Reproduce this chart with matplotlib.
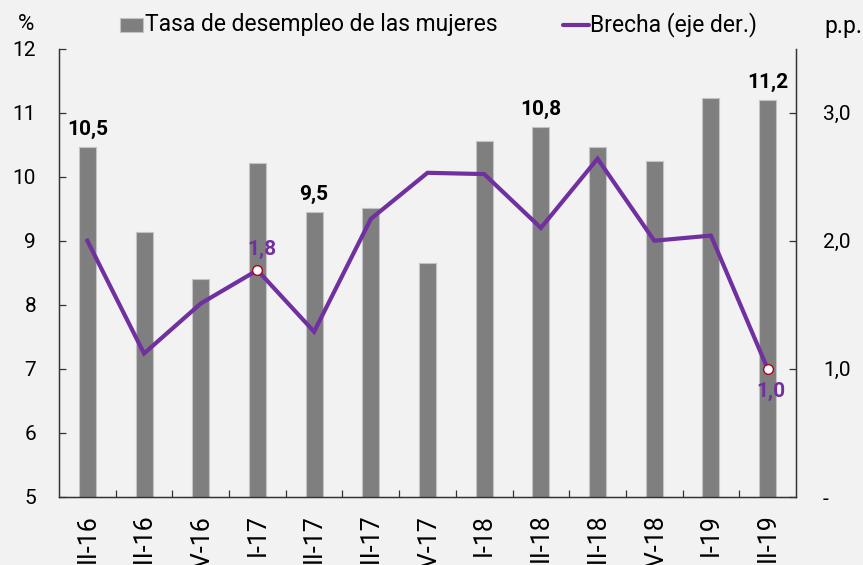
import matplotlib
matplotlib.use("Agg")
import matplotlib.pyplot as plt
from matplotlib.patches import Rectangle
from matplotlib.lines import Line2D

plt.rcParams['font.family'] = ['Roboto', 'DejaVu Sans']

categories = ["II-16", "III-16", "IV-16", "I-17", "II-17", "III-17", "IV-17",
              "I-18", "II-18", "III-18", "IV-18", "I-19", "II-19"]
tasa = [10.47, 9.14, 8.40, 10.22, 9.45, 9.51, 8.65, 10.56, 10.77, 10.46, 10.25, 11.23, 11.20]
brecha = [2.0, 1.12, 1.51, 1.77, 1.29, 2.17, 2.53, 2.52, 2.10, 2.64, 2.0, 2.04, 1.0]
bar_label_idx = [0, 4, 8, 12]
bar_label_txt = ["10,5", "9,5", "10,8", "11,2"]
line_label_idx = [3, 12]
line_label_txt = ["1,8", "1,0"]
left_ticks = [5, 6, 7, 8, 9, 10, 11, 12]
right_ticks = [0, 1, 2, 3]
right_tick_labels = ["-", "1,0", "2,0", "3,0"]

BG = "#f2f2f2"
BAR = "#7f7f7f"
PURPLE = "#7030a0"
SPINE = "#333333"

W, H = 863, 565
fig = plt.figure(figsize=(W / 100, H / 100), dpi=100, facecolor=BG)
ax = fig.add_axes([59 / W, (H - 497) / H, (796 - 59) / W, (497 - 48.5) / H])
ax.set_facecolor(BG)

x = list(range(len(categories)))
ax.bar(x, [v - 5 for v in tasa], bottom=5, width=0.30, color=BAR,
       edgecolor="#c4c4c4", linewidth=0.8, zorder=2)
ax.set_xlim(-0.5, len(categories) - 0.5)
ax.set_ylim(5, 12)
ax.set_yticks(left_ticks)
ax.set_yticklabels([str(t) for t in left_ticks])
ax.set_xticks(x)
ax.set_xticklabels(categories, rotation=90, fontsize=18, va="top", ha="center")
ax.set_xticks([i + 0.5 for i in x[:-1]], minor=True)
ax.tick_params(axis="x", which="major", length=0, pad=12, colors="black")
ax.tick_params(axis="x", which="minor", direction="in", length=5, width=0.9, color=SPINE)
ax.tick_params(axis="y", direction="in", length=5, width=0.9, color=SPINE,
               labelsize=15, pad=16.5)
for s in ["left", "right", "bottom"]:
    ax.spines[s].set_color(SPINE)
    ax.spines[s].set_linewidth(1.0)
ax.spines["top"].set_visible(False)

for i, t in zip(bar_label_idx, bar_label_txt):
    ax.annotate(t, (i, tasa[i]), xytext=(0, 8.6), textcoords="offset points",
                ha="center", va="baseline", fontsize=15, fontweight="bold",
                color="black", zorder=5)

ax2 = ax.twinx()
ax2.set_ylim(0, 3.5)
ax2.plot(x, brecha, color=PURPLE, linewidth=3, zorder=3, solid_joinstyle="miter")
ax2.plot([x[i] for i in line_label_idx], [brecha[i] for i in line_label_idx],
         linestyle="none", marker="o", markersize=7, markerfacecolor="white",
         markeredgecolor="#b00020", markeredgewidth=1.0, zorder=4)
ax2.set_yticks(right_ticks)
ax2.set_yticklabels(right_tick_labels)
ax2.tick_params(axis="y", direction="in", length=5, width=0.9, color=SPINE,
                labelsize=15, pad=19.5)
for s in ["left", "right", "bottom"]:
    ax2.spines[s].set_color(SPINE)
ax2.spines["top"].set_visible(False)

offsets = [(3, 11), (2, -20.5)]
for (i, t), off in zip(zip(line_label_idx, line_label_txt), offsets):
    ax2.annotate(t, (i, brecha[i]), xytext=off, textcoords="offset points",
                 ha="center", va="baseline", fontsize=15, fontweight="bold",
                 color=PURPLE, zorder=5)

# legend and unit labels
def fy(py):
    return (H - py) / H

fig.add_artist(Rectangle((120 / W, fy(32)), 23 / W, 14 / H, transform=fig.transFigure,
                         facecolor=BAR, edgecolor="#c4c4c4", linewidth=0.8))
fig.text(145 / W, fy(25), "Tasa de desempleo de las mujeres", fontsize=16.5,
         va="center", ha="left")
fig.add_artist(Line2D([563 / W, 589 / W], [fy(25), fy(25)], transform=fig.transFigure,
                      color=PURPLE, linewidth=3, solid_capstyle="round"))
fig.text(590 / W, fy(25), "Brecha (eje der.)", fontsize=16.5, va="center", ha="left")
fig.text(26.5 / W, fy(25), "%", fontsize=16, va="center", ha="center")
fig.text(824 / W, fy(27), "p.p.", fontsize=16.5, va="center", ha="left")

fig.savefig("out.png", dpi=100, facecolor=BG)
